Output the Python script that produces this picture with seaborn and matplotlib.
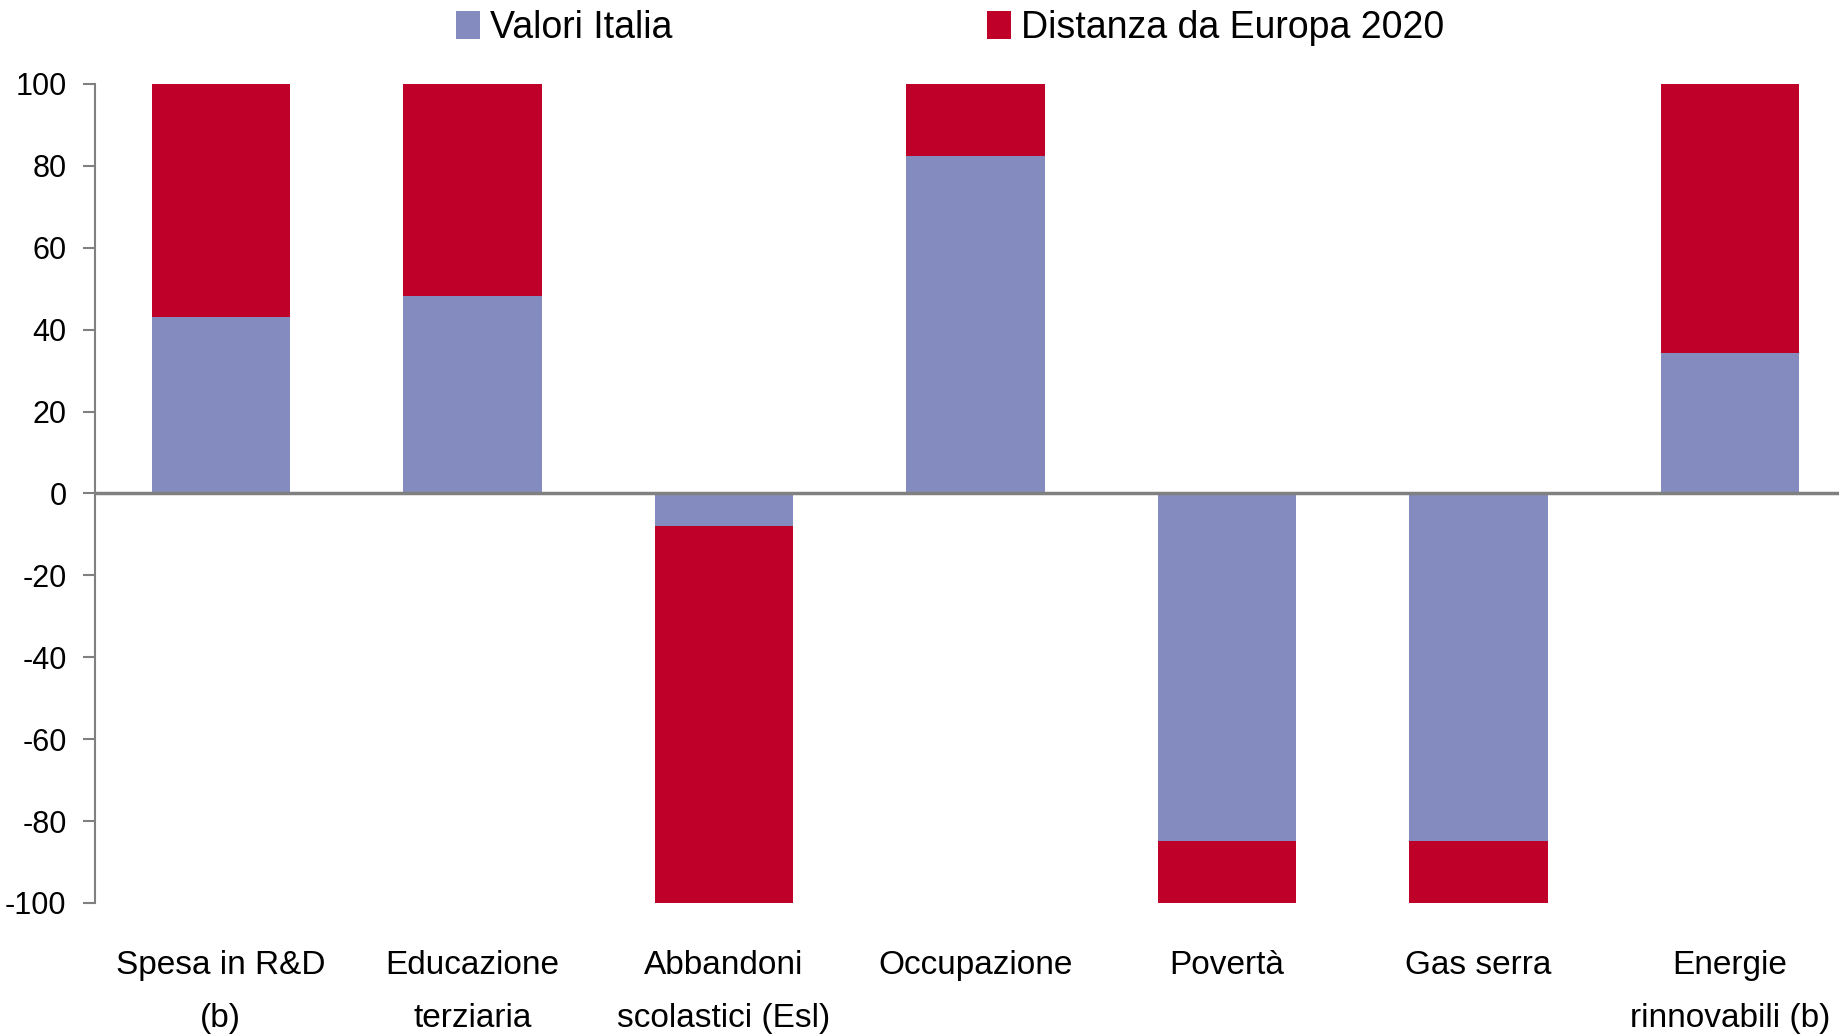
import matplotlib
matplotlib.use('Agg')
import matplotlib.pyplot as plt
import seaborn as sns
from matplotlib.patches import Patch

# Data
categories = ['Spesa in R&D\n(b)', 'Educazione\nterziaria', 'Abbandoni\nscolastici (Esl)',
              'Occupazione', 'Povertà', 'Gas serra', 'Energie\nrinnovabili (b)']
valori_italia = [43.0, 48.2, -8.0, 82.3, -84.8, -84.8, 34.4]
distanza_europa = [57.0, 51.8, -92.0, 17.7, -15.2, -15.2, 65.6]
y_ticks = list(range(-100, 101, 20))

blue = '#848BBE'
red = '#BF0029'

sns.set_style('white')
plt.rcParams['font.family'] = ['Liberation Sans', 'DejaVu Sans']
plt.rcParams['axes.unicode_minus'] = False

fig = plt.figure(figsize=(18.39, 10.36), dpi=100)
ax = fig.add_axes([0.0517, 0.1284, 0.9483, 0.7906])

# Stacked bars: total (red) drawn first, Italy value (blue) on top
totals = [v + d for v, d in zip(valori_italia, distanza_europa)]
sns.barplot(x=categories, y=totals, color=red, saturation=1, width=0.55, linewidth=0, ax=ax)
sns.barplot(x=categories, y=valori_italia, color=blue, saturation=1, width=0.55, linewidth=0, ax=ax)

ax.set_xlim(-0.5, 6.433)
ax.set_ylim(-100, 100)
ax.set_yticks(y_ticks)
ax.set_yticklabels([str(t) for t in y_ticks])
ax.axhline(0, color='#808080', linewidth=2.5, zorder=5)

for s in ['top', 'right', 'bottom']:
    ax.spines[s].set_visible(False)
ax.spines['left'].set_color('#808080')
ax.spines['left'].set_linewidth(1.5)

ax.tick_params(axis='y', direction='out', length=8.5, width=1.5, color='#808080',
               labelsize=22, labelcolor='black', pad=12, left=True)
ax.tick_params(axis='x', length=0, labelsize=24, labelcolor='black', pad=34)
for lbl in ax.get_xticklabels():
    lbl.set_linespacing(1.9)
ax.set_xlabel('')
ax.set_ylabel('')

handles = [Patch(facecolor=blue, edgecolor='none', label='Valori Italia'),
           Patch(facecolor=red, edgecolor='none', label='Distanza da Europa 2020')]
fig.legend(handles=handles, loc='center left', bbox_to_anchor=(456 / 1839, 1 - 28 / 1036), ncol=2,
           frameon=False, fontsize=27, handlelength=0.63, handleheight=0.75,
           handletextpad=0.27, columnspacing=8.4, borderpad=0, borderaxespad=0,
           labelcolor='black')

fig.savefig('out.png', dpi=100)
